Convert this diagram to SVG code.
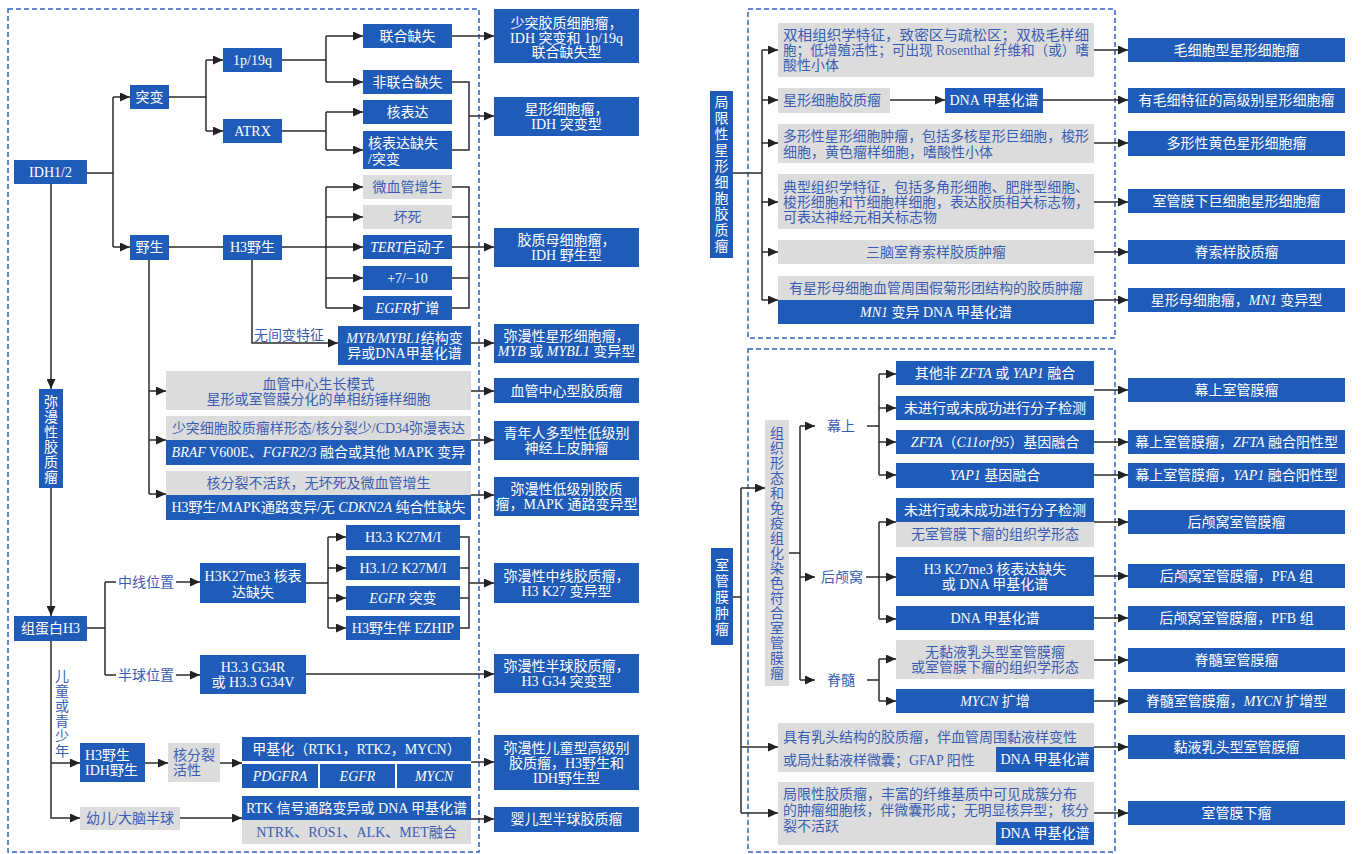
<svg xmlns="http://www.w3.org/2000/svg" width="1362" height="854" viewBox="0 0 1362 854">
<style>
text{font-family:"Liberation Serif","Noto Sans CJK SC",serif;font-size:14px}
.nb{fill:#1f5bb8}
.ng{fill:#dcdcdc}
.tw{fill:#ffffff}
.tb{fill:#3a5db3}
.c{text-anchor:middle}
.i{font-style:italic}
.ln{fill:none;stroke:#2b2b2b;stroke-width:1.5}
.ar{fill:none;stroke:#2b2b2b;stroke-width:1.5;marker-end:url(#ah)}
.db{fill:none;stroke:#2f63cc;stroke-width:1.5;stroke-dasharray:5 3}
</style>
<defs>
<marker id="ah" markerUnits="userSpaceOnUse" markerWidth="11" markerHeight="9" refX="10" refY="4.5" orient="auto">
<path d="M0,0 L10,4.5 L0,9 z" fill="#222"/>
</marker>
</defs>
<rect width="1362" height="854" fill="#fff"/>
<g id="frames">
<rect class="db" x="8" y="9" width="471" height="843"/>
<rect class="db" x="748" y="9" width="367" height="329"/>
<rect class="db" x="748" y="349" width="367" height="503"/>
</g>
<g id="connectors">
<path class="ln" d="M87,173 H113 M113,97 V247"/>
<path class="ar" d="M113,97 H130"/>
<path class="ar" d="M113,247 H130"/>
<path class="ln" d="M169,97 H206 M206,60 V131"/>
<path class="ar" d="M206,60 H223"/>
<path class="ar" d="M206,131 H223"/>
<path class="ln" d="M282,60 H326 M326,36 V82"/>
<path class="ar" d="M326,36 H363"/>
<path class="ar" d="M326,82 H363"/>
<path class="ln" d="M282,131 H326 M326,112 V150"/>
<path class="ar" d="M326,112 H363"/>
<path class="ar" d="M326,150 H363"/>
<path class="ar" d="M452,36 H494"/>
<path class="ln" d="M452,82 H469 V150 H452"/>
<path class="ar" d="M469,116 H494"/>
<path class="ln" d="M169,247 H223 M282,247 H326 M326,187 V308"/>
<path class="ar" d="M326,187 H363"/>
<path class="ar" d="M326,217 H363"/>
<path class="ar" d="M326,247 H363"/>
<path class="ar" d="M326,278 H363"/>
<path class="ar" d="M326,308 H363"/>
<path class="ln" d="M452,187 H469 V308 H452 M452,217 H469 M452,247 H469 M452,278 H469"/>
<path class="ar" d="M469,247 H494"/>
<path class="ar" d="M252,260 V343 H338"/>
<path class="ar" d="M471,343 H494"/>
<path class="ln" d="M149,260 V494"/>
<path class="ar" d="M149,391 H166"/>
<path class="ar" d="M149,440 H166"/>
<path class="ar" d="M149,494 H166"/>
<path class="ar" d="M471,391 H494"/>
<path class="ar" d="M471,440 H494"/>
<path class="ar" d="M471,495 H494"/>
<path class="ar" d="M51,184 V389"/>
<path class="ar" d="M51,488 V616"/>
<path class="ar" d="M51,641 V818 H80"/>
<path class="ar" d="M51,763 H80"/>
<path class="ln" d="M87,628 H105 M105,582 V675 M105,582 H116 M105,675 H116"/>
<path class="ar" d="M176,582 H200"/>
<path class="ar" d="M176,675 H200"/>
<path class="ln" d="M306,583 H328 M328,537 V628"/>
<path class="ar" d="M328,537 H346"/>
<path class="ar" d="M328,568 H346"/>
<path class="ar" d="M328,598 H346"/>
<path class="ar" d="M328,628 H346"/>
<path class="ln" d="M460,537 H469 V628 H460 M460,568 H469 M460,598 H469"/>
<path class="ar" d="M469,583 H494"/>
<path class="ar" d="M306,674 H494"/>
<path class="ar" d="M145,763 H168"/>
<path class="ar" d="M220,763 H242"/>
<path class="ar" d="M471,762 H494"/>
<path class="ar" d="M180,818 H242"/>
<path class="ar" d="M471,819 H494"/>
<path class="ln" d="M733,173 H762 M762,50 V300"/>
<path class="ar" d="M762,50 H778"/>
<path class="ar" d="M762,100 H778"/>
<path class="ar" d="M762,143 H778"/>
<path class="ar" d="M762,202 H778"/>
<path class="ar" d="M762,252 H778"/>
<path class="ar" d="M762,300 H778"/>
<path class="ar" d="M1094,50 H1128"/>
<path class="ar" d="M890,100 H945"/>
<path class="ar" d="M1043,100 H1128"/>
<path class="ar" d="M1094,143 H1128"/>
<path class="ar" d="M1094,202 H1128"/>
<path class="ar" d="M1094,252 H1128"/>
<path class="ar" d="M1094,300 H1128"/>
<path class="ln" d="M733,597 H741 M741,488 V813"/>
<path class="ar" d="M741,488 H765"/>
<path class="ar" d="M741,747 H778"/>
<path class="ar" d="M741,813 H778"/>
<path class="ln" d="M789,553 H800 M800,426 V680"/>
<path class="ar" d="M800,426 H815"/>
<path class="ar" d="M800,577 H815"/>
<path class="ar" d="M800,680 H815"/>
<path class="ln" d="M867,426 H879 M879,374 V475"/>
<path class="ar" d="M879,374 H896"/>
<path class="ar" d="M879,408 H896"/>
<path class="ar" d="M879,442 H896"/>
<path class="ar" d="M879,475 H896"/>
<path class="ar" d="M1094,390 H1128"/>
<path class="ar" d="M1094,442 H1128"/>
<path class="ar" d="M1094,475 H1128"/>
<path class="ln" d="M866,577 H879 M879,522 V619"/>
<path class="ar" d="M879,522 H896"/>
<path class="ar" d="M879,577 H896"/>
<path class="ar" d="M879,619 H896"/>
<path class="ar" d="M1094,522 H1128"/>
<path class="ar" d="M1094,576 H1128"/>
<path class="ar" d="M1094,618 H1128"/>
<path class="ln" d="M867,680 H879 M879,659 V701"/>
<path class="ar" d="M879,659 H896"/>
<path class="ar" d="M879,701 H896"/>
<path class="ar" d="M1094,660 H1128"/>
<path class="ar" d="M1094,701 H1128"/>
<path class="ar" d="M1094,747 H1128"/>
<path class="ar" d="M1094,813 H1128"/>
</g>
<g id="labels">
<text class="tb" x="254" y="340">无间变特征</text>
<text class="tb" x="118" y="587">中线位置</text>
<text class="tb" x="118" y="680">半球位置</text>
<text class="tb c"><tspan x="62" y="681">儿</tspan><tspan x="62" y="696">童</tspan><tspan x="62" y="711">或</tspan><tspan x="62" y="726">青</tspan><tspan x="62" y="741">少</tspan><tspan x="62" y="756">年</tspan></text>
<text class="tb c" x="841" y="431">幕上</text>
<text class="tb c" x="842" y="582">后颅窝</text>
<text class="tb c" x="841" y="685">脊髓</text>
</g>
<g id="n-idh"><rect class="nb" x="14" y="160" width="73" height="24"/><text class="tw c" x="50.5" y="177">IDH1/2</text></g>
<g id="n-mut"><rect class="nb" x="130" y="85" width="39" height="24"/><text class="tw c" x="149.5" y="102">突变</text></g>
<g id="n-wt"><rect class="nb" x="130" y="235" width="39" height="25"/><text class="tw c" x="149.5" y="252">野生</text></g>
<g id="n-1p"><rect class="nb" x="223" y="48" width="59" height="24"/><text class="tw c" x="252.5" y="65">1p/19q</text></g>
<g id="n-atrx"><rect class="nb" x="223" y="119" width="59" height="24"/><text class="tw c" x="252.5" y="136">ATRX</text></g>
<g id="n-h3wt"><rect class="nb" x="223" y="235" width="59" height="25"/><text class="tw c" x="252.5" y="252">H3野生</text></g>
<g id="n-codel"><rect class="nb" x="363" y="24" width="89" height="24"/><text class="tw c" x="407.5" y="41">联合缺失</text></g>
<g id="n-noncodel"><rect class="nb" x="363" y="70" width="89" height="24"/><text class="tw c" x="407.5" y="87">非联合缺失</text></g>
<g id="n-nuc"><rect class="nb" x="363" y="100" width="89" height="24"/><text class="tw c" x="407.5" y="117">核表达</text></g>
<g id="n-nucloss"><rect class="nb" x="363" y="131" width="89" height="38"/><text class="tw" x="368" y="148">核表达缺失</text><text class="tw" x="368" y="164">/突变</text></g>
<g id="n-mvp"><rect class="ng" x="363" y="175" width="89" height="24"/><text class="tb c" x="407.5" y="192">微血管增生</text></g>
<g id="n-nec"><rect class="ng" x="363" y="205" width="89" height="24"/><text class="tb c" x="407.5" y="222">坏死</text></g>
<g id="n-tert"><rect class="nb" x="363" y="235" width="89" height="24"/><text class="tw c" x="407.5" y="252"><tspan class="i">TERT</tspan>启动子</text></g>
<g id="n-710"><rect class="nb" x="363" y="266" width="89" height="24"/><text class="tw c" x="407.5" y="283">+7/−10</text></g>
<g id="n-egfr"><rect class="nb" x="363" y="296" width="89" height="24"/><text class="tw c" x="407.5" y="313"><tspan class="i">EGFR</tspan>扩增</text></g>
<g id="n-myb"><rect class="nb" x="338" y="326" width="133" height="39"/><text class="tw c" x="404.5" y="343"><tspan class="i">MYB/MYBL1</tspan>结构变</text><text class="tw c" x="404.5" y="358">异或DNA甲基化谱</text></g>
<g id="r-odg"><rect class="nb" x="494" y="9" width="145" height="54"/><text class="tw c" x="566.5" y="28">少突胶质细胞瘤，</text><text class="tw c" x="566.5" y="43">IDH 突变和 1p/19q</text><text class="tw c" x="566.5" y="57">联合缺失型</text></g>
<g id="r-astro"><rect class="nb" x="494" y="97" width="145" height="39"/><text class="tw c" x="566.5" y="114">星形细胞瘤，</text><text class="tw c" x="566.5" y="129">IDH 突变型</text></g>
<g id="r-gbm"><rect class="nb" x="494" y="228" width="145" height="39"/><text class="tw c" x="566.5" y="245">胶质母细胞瘤，</text><text class="tw c" x="566.5" y="260">IDH 野生型</text></g>
<g id="r-myb"><rect class="nb" x="494" y="324" width="145" height="39"/><text class="tw c" x="566.5" y="341">弥漫性星形细胞瘤，</text><text class="tw c" x="566.5" y="356"><tspan class="i">MYB</tspan> 或 <tspan class="i">MYBL1</tspan> 变异型</text></g>
<g id="n-angio"><rect class="ng" x="166" y="371" width="305" height="39"/><text class="tb c" x="318.5" y="389">血管中心生长模式</text><text class="tb c" x="318.5" y="404">星形或室管膜分化的单相纺锤样细胞</text></g>
<g id="r-angio"><rect class="nb" x="494" y="378" width="145" height="25"/><text class="tw c" x="566.5" y="396">血管中心型胶质瘤</text></g>
<g id="n-plnty"><rect class="ng" x="166" y="416" width="305" height="24"/><text class="tb c" x="318.5" y="433">少突细胞胶质瘤样形态/核分裂少/CD34弥漫表达</text><rect class="nb" x="166" y="440" width="305" height="25"/><text class="tw c" x="318.5" y="457"><tspan class="i">BRAF</tspan> V600E、<tspan class="i">FGFR2/3</tspan> 融合或其他 MAPK 变异</text></g>
<g id="r-plnty"><rect class="nb" x="494" y="421" width="145" height="39"/><text class="tw c" x="566.5" y="438">青年人多型性低级别</text><text class="tw c" x="566.5" y="453">神经上皮肿瘤</text></g>
<g id="n-ll"><rect class="ng" x="166" y="471" width="305" height="24"/><text class="tb c" x="318.5" y="488">核分裂不活跃，无坏死及微血管增生</text><rect class="nb" x="166" y="495" width="305" height="25"/><text class="tw c" x="318.5" y="512">H3野生/MAPK通路变异/无 <tspan class="i">CDKN2A</tspan> 纯合性缺失</text></g>
<g id="r-ll"><rect class="nb" x="494" y="477" width="145" height="39"/><text class="tw c" x="566.5" y="494">弥漫性低级别胶质</text><text class="tw c" x="566.5" y="509">瘤，MAPK 通路变异型</text></g>
<g id="n-diff"><rect class="nb" x="39" y="389" width="24" height="99"/><text class="tw c"><tspan x="51" y="407">弥</tspan><tspan x="51" y="422">漫</tspan><tspan x="51" y="437">性</tspan><tspan x="51" y="452">胶</tspan><tspan x="51" y="467">质</tspan><tspan x="51" y="482">瘤</tspan></text></g>
<g id="n-h3"><rect class="nb" x="14" y="616" width="73" height="25"/><text class="tw c" x="50.5" y="633">组蛋白H3</text></g>
<g id="n-k27loss"><rect class="nb" x="200" y="563" width="106" height="40"/><text class="tw c" x="253" y="581">H3K27me3 核表</text><text class="tw c" x="253" y="597">达缺失</text></g>
<g id="n-g34"><rect class="nb" x="200" y="655" width="106" height="39"/><text class="tw c" x="253" y="672">H3.3 G34R</text><text class="tw c" x="253" y="687">或 H3.3 G34V</text></g>
<g id="n-k1"><rect class="nb" x="346" y="525" width="114" height="25"/><text class="tw c" x="403" y="542">H3.3 K27M/I</text></g>
<g id="n-k2"><rect class="nb" x="346" y="556" width="114" height="24"/><text class="tw c" x="403" y="573">H3.1/2 K27M/I</text></g>
<g id="n-k3"><rect class="nb" x="346" y="586" width="114" height="24"/><text class="tw c" x="403" y="603"><tspan class="i">EGFR</tspan> 突变</text></g>
<g id="n-k4"><rect class="nb" x="346" y="616" width="114" height="24"/><text class="tw c" x="403" y="633">H3野生伴 EZHIP</text></g>
<g id="r-dmg"><rect class="nb" x="494" y="563" width="145" height="40"/><text class="tw c" x="566.5" y="581">弥漫性中线胶质瘤，</text><text class="tw c" x="566.5" y="596">H3 K27 变异型</text></g>
<g id="r-dhg"><rect class="nb" x="494" y="654" width="145" height="39"/><text class="tw c" x="566.5" y="671">弥漫性半球胶质瘤，</text><text class="tw c" x="566.5" y="686">H3 G34 突变型</text></g>
<g id="n-h3idh"><rect class="nb" x="80" y="743" width="65" height="39"/><text class="tw" x="85" y="760">H3野生</text><text class="tw" x="85" y="775">IDH野生</text></g>
<g id="n-mit"><rect class="ng" x="168" y="743" width="52" height="39"/><text class="tb" x="173" y="760">核分裂</text><text class="tb" x="173" y="775">活性</text></g>
<g id="n-meth"><rect class="nb" x="242" y="737" width="229" height="24"/><text class="tw c" x="356.5" y="754">甲基化（RTK1，RTK2，MYCN）</text><rect class="nb" x="242" y="764" width="76" height="24"/><rect class="nb" x="320" y="764" width="75" height="24"/><rect class="nb" x="397" y="764" width="74" height="24"/><text class="tw c i" x="280" y="781">PDGFRA</text><text class="tw c i" x="357.5" y="781">EGFR</text><text class="tw c i" x="434" y="781">MYCN</text></g>
<g id="r-dphg"><rect class="nb" x="494" y="735" width="145" height="55"/><text class="tw c" x="566.5" y="753">弥漫性儿童型高级别</text><text class="tw c" x="566.5" y="768">胶质瘤，H3野生和</text><text class="tw c" x="566.5" y="783">IDH野生型</text></g>
<g id="n-inf"><rect class="ng" x="80" y="807" width="100" height="23"/><text class="tb c" x="130" y="823">幼儿/大脑半球</text></g>
<g id="n-rtk"><rect class="nb" x="242" y="796" width="229" height="24"/><text class="tw c" x="356.5" y="813">RTK 信号通路变异或 DNA 甲基化谱</text><rect class="ng" x="242" y="820" width="229" height="24"/><text class="tb c" x="356.5" y="837">NTRK、ROS1、ALK、MET融合</text></g>
<g id="r-ihg"><rect class="nb" x="494" y="807" width="145" height="25"/><text class="tw c" x="566.5" y="824">婴儿型半球胶质瘤</text></g>
<g id="n-loc"><rect class="nb" x="710" y="91" width="23" height="167"/><text class="tw c"><tspan x="721.5" y="107">局</tspan><tspan x="721.5" y="123">限</tspan><tspan x="721.5" y="139">性</tspan><tspan x="721.5" y="155">星</tspan><tspan x="721.5" y="171">形</tspan><tspan x="721.5" y="187">细</tspan><tspan x="721.5" y="203">胞</tspan><tspan x="721.5" y="219">胶</tspan><tspan x="721.5" y="235">质</tspan><tspan x="721.5" y="251">瘤</tspan></text></g>
<g id="n-pa"><rect class="ng" x="778" y="23" width="316" height="54"/><text class="tb" x="783" y="40" textLength="306" lengthAdjust="spacingAndGlyphs">双相组织学特征，致密区与疏松区；双极毛样细</text><text class="tb" x="783" y="55" textLength="306" lengthAdjust="spacingAndGlyphs">胞；低增殖活性；可出现 Rosenthal 纤维和（或）嗜</text><text class="tb" x="783" y="70">酸性小体</text></g>
<g id="r-pa"><rect class="nb" x="1128" y="38" width="217" height="24"/><text class="tw c" x="1236.5" y="55">毛细胞型星形细胞瘤</text></g>
<g id="n-ag"><rect class="ng" x="778" y="88" width="112" height="25"/><text class="tb" x="783" y="105">星形细胞胶质瘤</text></g>
<g id="n-ag-dna"><rect class="nb" x="945" y="88" width="98" height="25"/><text class="tw c" x="994" y="105">DNA 甲基化谱</text></g>
<g id="r-hgap"><rect class="nb" x="1128" y="88" width="217" height="25"/><text class="tw c" x="1236.5" y="105">有毛细特征的高级别星形细胞瘤</text></g>
<g id="n-pxa"><rect class="ng" x="778" y="124" width="316" height="39"/><text class="tb" x="783" y="141" textLength="306" lengthAdjust="spacingAndGlyphs">多形性星形细胞肿瘤，包括多核星形巨细胞，梭形</text><text class="tb" x="783" y="157">细胞，黄色瘤样细胞，嗜酸性小体</text></g>
<g id="r-pxa"><rect class="nb" x="1128" y="131" width="217" height="25"/><text class="tw c" x="1236.5" y="148">多形性黄色星形细胞瘤</text></g>
<g id="n-sega"><rect class="ng" x="778" y="174" width="316" height="55"/><text class="tb" x="783" y="192" textLength="306" lengthAdjust="spacingAndGlyphs">典型组织学特征，包括多角形细胞、肥胖型细胞、</text><text class="tb" x="783" y="207" textLength="306" lengthAdjust="spacingAndGlyphs">梭形细胞和节细胞样细胞，表达胶质相关标志物，</text><text class="tb" x="783" y="222">可表达神经元相关标志物</text></g>
<g id="r-sega"><rect class="nb" x="1128" y="189" width="217" height="24"/><text class="tw c" x="1236.5" y="206">室管膜下巨细胞星形细胞瘤</text></g>
<g id="n-cg"><rect class="ng" x="778" y="240" width="316" height="24"/><text class="tb c" x="936" y="257">三脑室脊索样胶质肿瘤</text></g>
<g id="r-cg"><rect class="nb" x="1128" y="240" width="217" height="24"/><text class="tw c" x="1236.5" y="257">脊索样胶质瘤</text></g>
<g id="n-ab"><rect class="ng" x="778" y="276" width="316" height="24"/><text class="tb c" x="936" y="293">有星形母细胞血管周围假菊形团结构的胶质肿瘤</text><rect class="nb" x="778" y="300" width="316" height="24"/><text class="tw c" x="936" y="317"><tspan class="i">MN1</tspan> 变异 DNA 甲基化谱</text></g>
<g id="r-ab"><rect class="nb" x="1128" y="288" width="217" height="24"/><text class="tw c" x="1236.5" y="305">星形母细胞瘤，<tspan class="i">MN1</tspan> 变异型</text></g>
<g id="n-epn"><rect class="nb" x="711" y="548" width="22" height="97"/><text class="tw c"><tspan x="722" y="570">室</tspan><tspan x="722" y="586">管</tspan><tspan x="722" y="602">膜</tspan><tspan x="722" y="618">肿</tspan><tspan x="722" y="634">瘤</tspan></text></g>
<g id="n-ihc"><rect class="ng" x="765" y="420" width="24" height="266"/><text class="tb c"><tspan x="777" y="438">组</tspan><tspan x="777" y="453">织</tspan><tspan x="777" y="468">形</tspan><tspan x="777" y="483">态</tspan><tspan x="777" y="498">和</tspan><tspan x="777" y="513">免</tspan><tspan x="777" y="528">疫</tspan><tspan x="777" y="543">组</tspan><tspan x="777" y="558">化</tspan><tspan x="777" y="573">染</tspan><tspan x="777" y="588">色</tspan><tspan x="777" y="603">符</tspan><tspan x="777" y="618">合</tspan><tspan x="777" y="633">室</tspan><tspan x="777" y="648">管</tspan><tspan x="777" y="663">膜</tspan><tspan x="777" y="678">瘤</tspan></text></g>
<g id="n-st1"><rect class="nb" x="896" y="361" width="198" height="24"/><text class="tw c" x="995" y="378">其他非 <tspan class="i">ZFTA</tspan> 或 <tspan class="i">YAP1</tspan> 融合</text></g>
<g id="n-st2"><rect class="nb" x="896" y="396" width="198" height="24"/><text class="tw c" x="995" y="413">未进行或未成功进行分子检测</text></g>
<g id="n-st3"><rect class="nb" x="896" y="430" width="198" height="24"/><text class="tw c" x="995" y="447"><tspan class="i">ZFTA</tspan>（<tspan class="i">C11orf95</tspan>）基因融合</text></g>
<g id="n-st4"><rect class="nb" x="896" y="463" width="198" height="25"/><text class="tw c" x="995" y="480"><tspan class="i">YAP1</tspan> 基因融合</text></g>
<g id="r-st"><rect class="nb" x="1128" y="378" width="217" height="24"/><text class="tw c" x="1236.5" y="395">幕上室管膜瘤</text></g>
<g id="r-st-zfta"><rect class="nb" x="1128" y="430" width="217" height="24"/><text class="tw c" x="1236.5" y="447">幕上室管膜瘤，<tspan class="i">ZFTA</tspan> 融合阳性型</text></g>
<g id="r-st-yap"><rect class="nb" x="1128" y="463" width="217" height="25"/><text class="tw c" x="1236.5" y="480">幕上室管膜瘤，<tspan class="i">YAP1</tspan> 融合阳性型</text></g>
<g id="n-pf1"><rect class="nb" x="896" y="498" width="198" height="24"/><text class="tw c" x="995" y="515">未进行或未成功进行分子检测</text><rect class="ng" x="896" y="522" width="198" height="25"/><text class="tb c" x="995" y="539">无室管膜下瘤的组织学形态</text></g>
<g id="r-pf"><rect class="nb" x="1128" y="510" width="217" height="24"/><text class="tw c" x="1236.5" y="527">后颅窝室管膜瘤</text></g>
<g id="n-pfa"><rect class="nb" x="896" y="557" width="198" height="39"/><text class="tw c" x="995" y="574">H3 K27me3 核表达缺失</text><text class="tw c" x="995" y="589">或 DNA 甲基化谱</text></g>
<g id="r-pfa"><rect class="nb" x="1128" y="564" width="217" height="24"/><text class="tw c" x="1236.5" y="581">后颅窝室管膜瘤，PFA 组</text></g>
<g id="n-pfb"><rect class="nb" x="896" y="606" width="198" height="24"/><text class="tw c" x="995" y="623">DNA 甲基化谱</text></g>
<g id="r-pfb"><rect class="nb" x="1128" y="606" width="217" height="24"/><text class="tw c" x="1236.5" y="623">后颅窝室管膜瘤，PFB 组</text></g>
<g id="n-sp1"><rect class="ng" x="896" y="640" width="198" height="39"/><text class="tb c" x="995" y="657">无黏液乳头型室管膜瘤</text><text class="tb c" x="995" y="672">或室管膜下瘤的组织学形态</text></g>
<g id="r-sp"><rect class="nb" x="1128" y="648" width="217" height="24"/><text class="tw c" x="1236.5" y="665">脊髓室管膜瘤</text></g>
<g id="n-sp2"><rect class="nb" x="896" y="689" width="198" height="24"/><text class="tw c" x="995" y="706"><tspan class="i">MYCN</tspan> 扩增</text></g>
<g id="r-sp-mycn"><rect class="nb" x="1128" y="689" width="217" height="24"/><text class="tw c" x="1236.5" y="706">脊髓室管膜瘤，<tspan class="i">MYCN</tspan> 扩增型</text></g>
<g id="n-mpe"><rect class="ng" x="778" y="723" width="316" height="49"/><text class="tb" x="783" y="742">具有乳头结构的胶质瘤，伴血管周围黏液样变性</text><text class="tb" x="783" y="765">或局灶黏液样微囊；GFAP 阳性</text><rect class="nb" x="996" y="747" width="98" height="25"/><text class="tw c" x="1045" y="764">DNA 甲基化谱</text></g>
<g id="r-mpe"><rect class="nb" x="1128" y="735" width="217" height="24"/><text class="tw c" x="1236.5" y="752">黏液乳头型室管膜瘤</text></g>
<g id="n-se"><rect class="ng" x="778" y="782" width="316" height="63"/><text class="tb" x="783" y="799">局限性胶质瘤，丰富的纤维基质中可见成簇分布</text><text class="tb" x="783" y="815" textLength="306" lengthAdjust="spacingAndGlyphs">的肿瘤细胞核，伴微囊形成；无明显核异型；核分</text><text class="tb" x="783" y="831">裂不活跃</text><rect class="nb" x="996" y="822" width="98" height="23"/><text class="tw c" x="1045" y="838">DNA 甲基化谱</text></g>
<g id="r-se"><rect class="nb" x="1128" y="801" width="217" height="24"/><text class="tw c" x="1236.5" y="818">室管膜下瘤</text></g>
</svg>
